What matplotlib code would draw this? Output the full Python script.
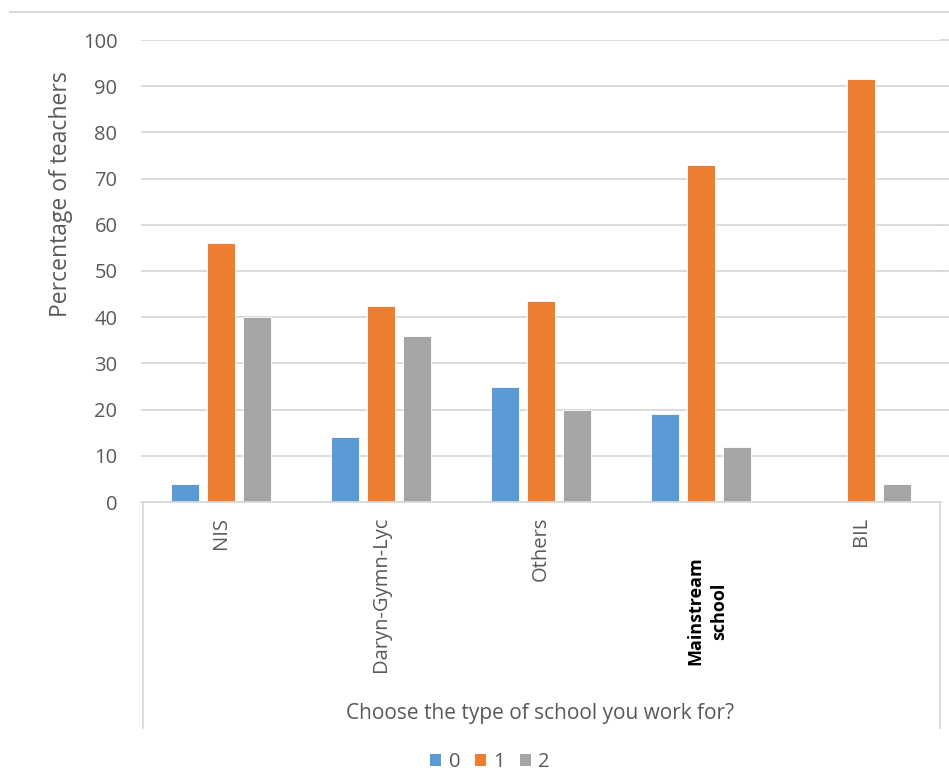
import matplotlib
matplotlib.use("Agg")
import matplotlib.pyplot as plt
from matplotlib.lines import Line2D
from matplotlib.patches import Patch
import numpy as np

categories = ["NIS", "Daryn-Gymn-Lyc", "Others", "Mainstream\nschool", "BIL"]
series_names = ["0", "1", "2"]
values_0 = [4, 14, 25, 19, 0]
values_1 = [56, 42.5, 43.5, 73, 91.5]
values_2 = [40, 36, 20, 12, 4]
y_ticks = [0, 10, 20, 30, 40, 50, 60, 70, 80, 90, 100]

colors = ["#5B9BD5", "#ED7D31", "#A5A5A5"]
text_color = "#595959"
grid_color = "#D9D9D9"

plt.rcParams["font.family"] = ["Open Sans", "DejaVu Sans"]

W, H = 949, 774
fig = plt.figure(figsize=(W / 100, H / 100), dpi=100)
ax = fig.add_axes([141 / W, 1 - 502 / H, 800 / W, 462 / H])

x = np.arange(len(categories))
width = 0.175
step = 0.225
for i, vals in enumerate([values_0, values_1, values_2]):
    ax.bar(x + (i - 1) * step, vals, width, color=colors[i],
           edgecolor="white", linewidth=0.6, zorder=3)

ax.set_xlim(-0.5, len(categories) - 0.5)
ax.set_ylim(0, 100)
ax.set_yticks(y_ticks)
ax.set_yticklabels([str(t) for t in y_ticks], color=text_color, fontsize=14.5)
ax.tick_params(axis="y", length=0, pad=17)
ax.tick_params(axis="x", length=0)
ax.set_xticks([])
ax.yaxis.grid(True, color=grid_color, linewidth=1.3, zorder=0)
for s in ["top", "right", "left"]:
    ax.spines[s].set_visible(False)
ax.spines["bottom"].set_color(grid_color)
ax.spines["bottom"].set_linewidth(1.3)
ax.spines["bottom"].set_zorder(4)

# extend gridlines to the right edge of the figure
for t in y_ticks[1:]:
    fig.add_artist(Line2D([941 / W, 1.0], [1 - (502 - t * 4.62) / H] * 2,
                          color=grid_color, linewidth=1.3))

# category labels, rotated
for xi, cat in zip(x, categories):
    if "\n" in cat:
        ax.text(xi + 0.04, -11.8, cat, rotation=90, ha="center", va="top",
                fontsize=13, color="black", fontweight="bold",
                linespacing=1.45, multialignment="center")
    else:
        ax.text(xi, -3.2, cat, rotation=90, ha="center", va="top",
                fontsize=14.5, color=text_color)

# frame around the category area
fig.add_artist(Line2D([143 / W, 143 / W], [1 - 502 / H, 1 - 728 / H],
                      color=grid_color, linewidth=1.3))
fig.add_artist(Line2D([940 / W, 940 / W], [1 - 502 / H, 1 - 728 / H],
                      color=grid_color, linewidth=1.3))
# top border line
fig.add_artist(Line2D([10 / W, 1.0], [1 - 12 / H] * 2,
                      color=grid_color, linewidth=1.5))

fig.text(540 / W, 1 - 713 / H, "Choose the type of school you work for?",
         ha="center", va="center", fontsize=15, color=text_color)
fig.text(61 / W, 1 - 194 / H, "Percentage of teachers", rotation=90,
         ha="center", va="center", fontsize=16.5, color=text_color)

handles = [Patch(facecolor=c, label=n) for c, n in zip(colors, series_names)]
fig.legend(handles=handles, loc="center", bbox_to_anchor=(490 / W, 1 - 762 / H),
           ncol=3, frameon=False, fontsize=14.5, handlelength=0.55,
           handleheight=0.55, handletextpad=0.35, columnspacing=0.75,
           labelcolor=text_color)

fig.savefig("out.png", dpi=100, facecolor="white")
